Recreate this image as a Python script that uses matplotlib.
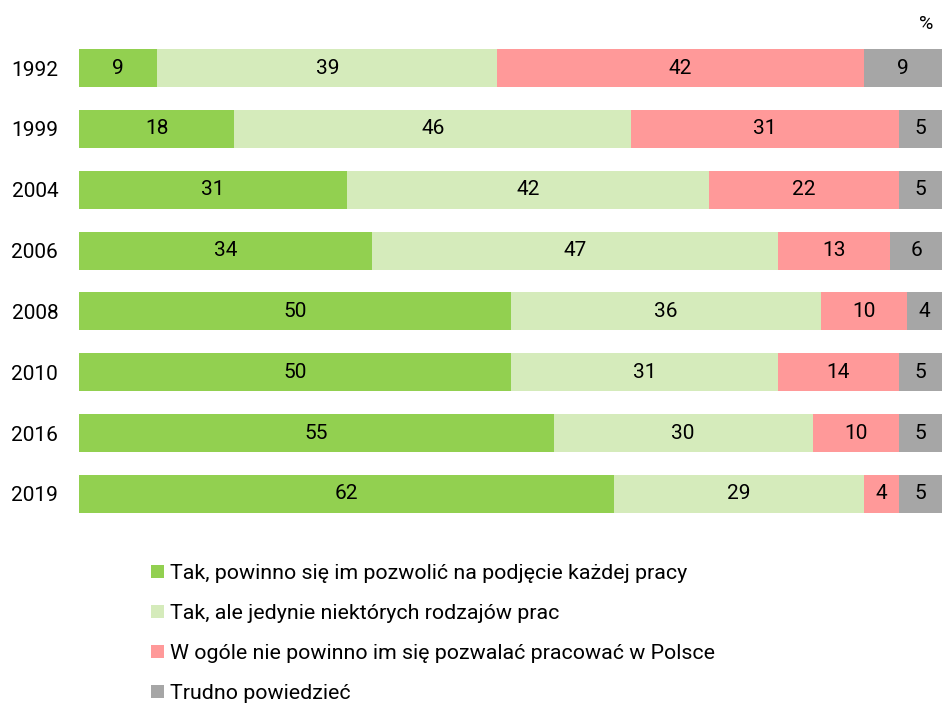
import matplotlib
matplotlib.use("Agg")
import matplotlib.pyplot as plt
import numpy as np

plt.rcParams['font.family'] = ['Roboto', 'DejaVu Sans']

years = ["1992", "1999", "2004", "2006", "2008", "2010", "2016", "2019"]
tak_kazdej = [9, 18, 31, 34, 50, 50, 55, 62]
tak_niektore = [39, 46, 42, 47, 36, 31, 30, 29]
nie = [42, 31, 22, 13, 10, 14, 10, 4]
trudno = [9, 5, 5, 6, 4, 5, 5, 5]

series_labels = [
    "Tak, powinno się im pozwolić na podjęcie każdej pracy",
    "Tak, ale jedynie niektórych rodzajów prac",
    "W ogóle nie powinno im się pozwalać pracować w Polsce",
    "Trudno powiedzieć",
]
colors = ["#92D050", "#D5EBBB", "#FF9999", "#A6A6A6"]

data = np.array([tak_kazdej, tak_niektore, nie, trudno], dtype=float)
totals = data.sum(axis=0)
norm = data / totals * 100

fig = plt.figure(figsize=(9.43, 7.05), dpi=100)
ax = fig.add_axes([79/943, 1 - 524.4/705, (942-79)/943, (524.4-37.6)/705])

y = np.arange(len(years))
left = np.zeros(len(years))
handles = []
for i in range(4):
    bars = ax.barh(y, norm[i], left=left, height=0.625, color=colors[i],
                   edgecolor='none', label=series_labels[i])
    handles.append(bars)
    for j in range(len(years)):
        ax.text(left[j] + norm[i][j] / 2, y[j], str(int(data[i][j])),
                ha='center', va='center', fontsize=15, color='#000000')
    left += norm[i]

ax.set_xlim(0, 100)
ax.set_ylim(len(years) - 0.5, -0.5)
ax.set_yticks(y)
ax.set_yticklabels(years, fontsize=15)
ax.tick_params(axis='y', length=0, pad=15)
ax.set_xticks([])
for s in ax.spines.values():
    s.set_visible(False)

fig.text(926/943, 1 - 24/705, "%", ha='center', va='center', fontsize=14)

fig.legend(handles=handles, labels=series_labels, loc='upper left',
           bbox_to_anchor=(151/943, 1 - 564/705), frameon=False, fontsize=15.4,
           handlelength=0.6, handleheight=0.6, handletextpad=0.3,
           labelspacing=0.98, borderaxespad=0, borderpad=0)

fig.savefig("out.png", dpi=100)
